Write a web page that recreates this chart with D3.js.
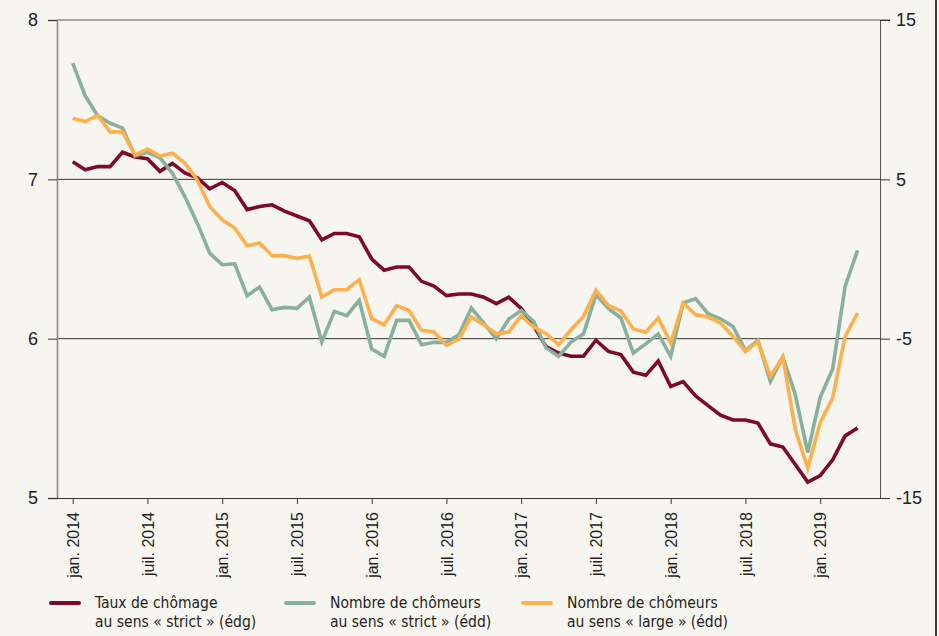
<!DOCTYPE html>
<html>
<head>
<meta charset="utf-8">
<script src="https://cdn.jsdelivr.net/npm/d3@7"></script>
<style>
  html, body { margin: 0; padding: 0; background: #f7f5f0; }
  svg { display: block; font-family: "DejaVu Sans Condensed", "DejaVu Sans", sans-serif; font-stretch: condensed; }
</style>
</head>
<body>
<div id="chart"></div>
<script>
const width = 939;
const height = 636;
const margin = {top: 20, right: 59, bottom: 138, left: 57};

const bgColor = '#f7f5f0';
const textColor = '#231f20';
const gridColor = '#333333';
const frameColor = '#8a8884';
const redColor = '#7d0a2c';
const greenColor = '#88b19d';
const orangeColor = '#fdb04b';

// monthly, jan. 2014 -> avr. 2019
const tauxStrict = [
  7.11, 7.06, 7.08, 7.08, 7.17, 7.14, 7.13, 7.05, 7.10, 7.04, 7.01, 6.94,
  6.98, 6.93, 6.81, 6.83, 6.84, 6.80, 6.77, 6.74, 6.62, 6.66, 6.66, 6.64,
  6.50, 6.43, 6.45, 6.45, 6.36, 6.33, 6.27, 6.28, 6.28, 6.26, 6.22, 6.26,
  6.19, 6.08, 5.95, 5.91, 5.89, 5.89, 5.99, 5.92, 5.90, 5.79, 5.77, 5.86,
  5.70, 5.73, 5.64, 5.58, 5.52, 5.49, 5.49, 5.47, 5.34, 5.32, 5.21, 5.10,
  5.14, 5.24, 5.39, 5.44
];

const chomeursStrict = [
  12.3, 10.25, 9.0, 8.52, 8.21, 6.47, 6.70, 6.35, 5.39, 3.92, 2.25, 0.37,
  -0.36, -0.30, -2.30, -1.76, -3.18, -3.04, -3.10, -2.39, -5.21, -3.29, -3.56, -2.60,
  -5.65, -6.11, -3.85, -3.85, -5.38, -5.23, -5.23, -4.75, -3.08, -4.02, -5.02, -3.77,
  -3.23, -3.92, -5.58, -6.11, -5.21, -4.69, -2.24, -3.10, -3.70, -5.90, -5.33, -4.70,
  -6.11, -2.76, -2.49, -3.43, -3.75, -4.23, -5.75, -5.11, -7.68, -6.15, -8.51, -12.15,
  -8.68, -6.90, -1.72, 0.54
];

const chomeursLarge = [
  8.84, 8.63, 9.02, 7.98, 7.98, 6.54, 6.90, 6.47, 6.64, 6.02, 4.97, 3.30,
  2.46, 1.94, 0.83, 1.00, 0.21, 0.21, 0.04, 0.18, -2.39, -1.93, -1.93, -1.30,
  -3.75, -4.12, -2.93, -3.23, -4.48, -4.58, -5.42, -5.02, -3.64, -4.12, -4.69, -4.58,
  -3.56, -4.27, -4.69, -5.38, -4.44, -3.60, -1.97, -2.92, -3.26, -4.39, -4.60, -3.70,
  -5.27, -2.76, -3.50, -3.64, -4.02, -4.86, -5.80, -5.17, -7.36, -6.15, -10.70, -13.13,
  -10.27, -8.72, -4.86, -3.39
];

const tickMonths = [0, 6, 12, 18, 24, 30, 36, 42, 48, 54, 60];
const tickLabels = [
  'jan. 2014', 'juil. 2014', 'jan. 2015', 'juil. 2015', 'jan. 2016', 'juil. 2016',
  'jan. 2017', 'juil. 2017', 'jan. 2018', 'juil. 2018', 'jan. 2019'
];
const leftTicks = [5, 6, 7, 8];
const rightTicks = [-15, -5, 5, 15];

const legendItems = [
  {color: redColor, lines: ['Taux de chômage', 'au sens « strict » (édg)']},
  {color: greenColor, lines: ['Nombre de chômeurs', 'au sens « strict » (édd)']},
  {color: orangeColor, lines: ['Nombre de chômeurs', 'au sens « large » (édd)']}
];

const innerW = width - margin.left - margin.right;
const innerH = height - margin.top - margin.bottom;

const svg = d3.select('#chart')
  .append('svg')
  .attr('width', width)
  .attr('height', height);

svg.append('rect')
  .attr('width', width)
  .attr('height', height)
  .attr('fill', bgColor);

const xScale = d3.scaleLinear()
  .domain([-1.26, 64.8])
  .range([margin.left, margin.left + innerW]);

const yLeft = d3.scaleLinear()
  .domain([5, 8])
  .range([margin.top + innerH, margin.top]);

const yRight = d3.scaleLinear()
  .domain([-15, 15])
  .range([margin.top + innerH, margin.top]);

/* horizontal grid at 6 and 7 */
svg.append('g')
  .attr('class', 'grid')
  .selectAll('line')
  .data([6, 7])
  .join('line')
  .attr('x1', margin.left)
  .attr('x2', margin.left + innerW)
  .attr('y1', d => yLeft(d))
  .attr('y2', d => yLeft(d))
  .attr('stroke', gridColor)
  .attr('stroke-width', 1);

/* top frame line */
svg.append('line')
  .attr('x1', margin.left)
  .attr('x2', margin.left + innerW + 10)
  .attr('y1', yLeft(8))
  .attr('y2', yLeft(8))
  .attr('stroke', frameColor)
  .attr('stroke-width', 1.6);

/* left axis */
const leftAxis = svg.append('g')
  .attr('transform', `translate(${margin.left},0)`)
  .call(d3.axisLeft(yLeft).tickValues(leftTicks).tickFormat(d3.format('d')).tickSize(9).tickPadding(10));
leftAxis.select('.domain').attr('stroke', frameColor).attr('stroke-width', 1.6);
leftAxis.selectAll('.tick line').attr('stroke', gridColor);
leftAxis.selectAll('text')
  .style('font-size', '18px')
  .attr('fill', textColor);

/* right axis */
const rightAxis = svg.append('g')
  .attr('transform', `translate(${margin.left + innerW},0)`)
  .call(d3.axisRight(yRight).tickValues(rightTicks).tickSize(10).tickPadding(6));
rightAxis.select('.domain').attr('stroke', '#555').attr('stroke-width', 1);
rightAxis.selectAll('.tick line').attr('stroke', gridColor);
rightAxis.selectAll('text')
  .style('font-size', '18px')
  .attr('fill', textColor)
  .text(d => d < 0 ? '-' + Math.abs(d) : d);

/* bottom axis */
const xAxis = svg.append('g')
  .attr('transform', `translate(0,${margin.top + innerH})`)
  .call(d3.axisBottom(xScale).tickValues(tickMonths).tickSize(6)
    .tickFormat((d, i) => tickLabels[i]));
xAxis.select('.domain')
  .attr('d', `M${margin.left},0.5H${margin.left + innerW}`)
  .attr('stroke', gridColor);
xAxis.selectAll('.tick line').attr('stroke', gridColor);
xAxis.selectAll('text')
  .style('font-size', '16px')
  .attr('fill', textColor)
  .attr('transform', 'rotate(-90)')
  .attr('text-anchor', 'end')
  .attr('x', -14)
  .attr('y', 0)
  .attr('dy', '0.36em');

/* series */
function drawLine(values, scale, color) {
  const line = d3.line()
    .x((d, i) => xScale(i))
    .y(d => scale(d));
  svg.append('path')
    .datum(values)
    .attr('fill', 'none')
    .attr('stroke', color)
    .attr('stroke-width', 3.6)
    .attr('stroke-linejoin', 'miter')
    .attr('d', line);
}

drawLine(tauxStrict, yLeft, redColor);
drawLine(chomeursStrict, yRight, greenColor);
drawLine(chomeursLarge, yRight, orangeColor);

/* legend */
const legendX = [49, 284, 521];
const legend = svg.append('g').attr('class', 'legend');
legendItems.forEach((item, i) => {
  const g = legend.append('g').attr('transform', `translate(${legendX[i]},0)`);
  g.append('line')
    .attr('x1', 2)
    .attr('x2', 30)
    .attr('y1', 603)
    .attr('y2', 603)
    .attr('stroke', item.color)
    .attr('stroke-width', 4)
    .attr('stroke-linecap', 'round');
  item.lines.forEach((t, j) => {
    g.append('text')
      .attr('x', 46)
      .attr('y', 608 + j * 19)
      .style('font-size', '15.5px')
      .attr('fill', textColor)
      .text(t);
  });
});

/* right frame edge */
svg.append('line')
  .attr('x1', 936)
  .attr('x2', 936)
  .attr('y1', 0)
  .attr('y2', height)
  .attr('stroke', '#3a3a3a')
  .attr('stroke-width', 2);
</script>
</body>
</html>
